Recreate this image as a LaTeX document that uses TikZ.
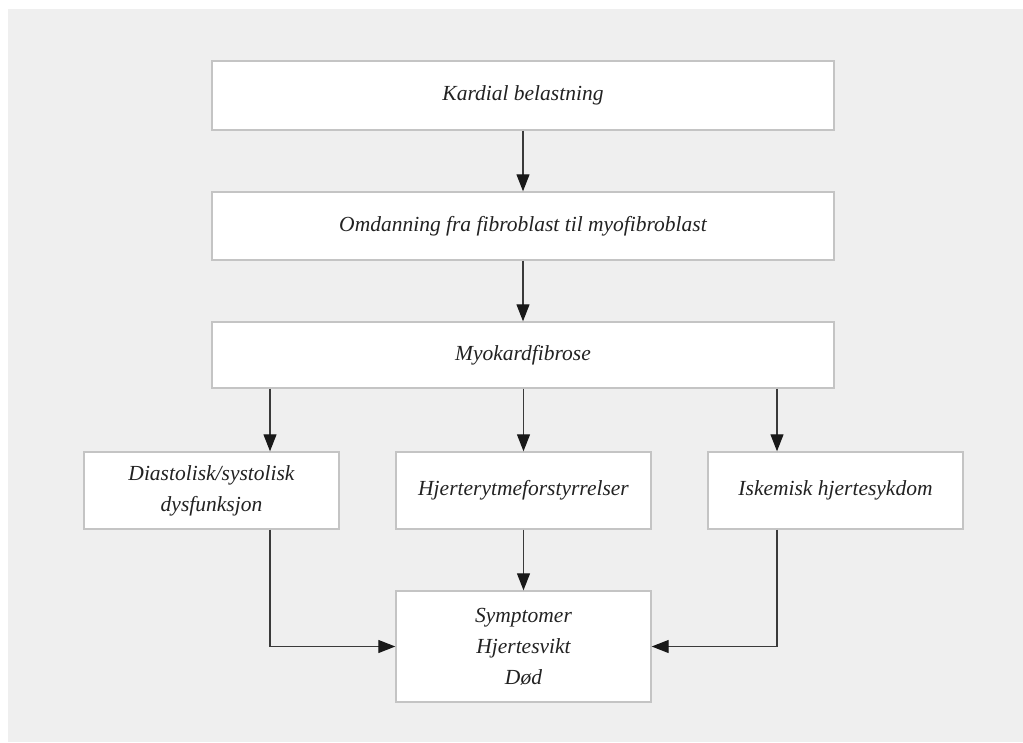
\documentclass[tikz,border=0pt]{standalone}
\usepackage{fontspec}
\setmainfont{Liberation Serif}
\usetikzlibrary{arrows.meta}
\definecolor{bg}{HTML}{EFEFEF}
\definecolor{boxline}{HTML}{C4C4C4}
\definecolor{lineclr}{HTML}{3A3A3A}
\definecolor{txt}{HTML}{222222}
\begin{document}
\begin{tikzpicture}[x=1pt,y=-1pt,
  box/.style={draw=boxline, line width=1.4pt, fill=white, inner sep=0pt, align=center,
    text=txt, font=\fontsize{21.5}{31}\selectfont\itshape},
  wide/.style={box, minimum width=622pt, minimum height=68pt},
  small/.style={box, minimum width=255pt, minimum height=77pt},
  arr/.style={draw=lineclr, line width=1.2pt, -{Triangle[length=17pt,width=13pt,fill=black!90,color=black!90]}}
]
\useasboundingbox (0,0) rectangle (1023,742);
\fill[white] (0,0) rectangle (1023,742);
\fill[bg] (8,9) rectangle (1023,742);

\node[wide, minimum height=69pt] (b1) at (523,95.5) {Kardial belastning};
\node[wide] (b2) at (523,226) {Omdanning fra fibroblast til myofibroblast};
\node[wide, minimum height=66pt] (b3) at (523,355) {Myokardfibrose};
\node[small] (b4) at (211.5,490.5) {Diastolisk/systolisk\\dysfunksjon};
\node[small] (b5) at (523.5,490.5) {Hjerterytmeforstyrrelser};
\node[small] (b6) at (835.5,490.5) {Iskemisk hjertesykdom};
\node[small, minimum height=111pt] (b7) at (523.5,646.5) {Symptomer\\Hjertesvikt\\Død};

\draw[arr] (b1.south) -- (b2.north);
\draw[arr] (b2.south) -- (b3.north);
\draw[arr] ([xshift=58.5pt]b4.north |- b3.south) -- ([xshift=58.5pt]b4.north);
\draw[arr] (b5.north |- b3.south) -- (b5.north);
\draw[arr] ([xshift=-58.5pt]b6.north |- b3.south) -- ([xshift=-58.5pt]b6.north);
\draw[arr] (b5.south) -- (b7.north);
\draw[arr] ([xshift=58.5pt]b4.south) |- (b7.west);
\draw[arr] ([xshift=-58.5pt]b6.south) |- (b7.east);
\end{tikzpicture}
\end{document}
